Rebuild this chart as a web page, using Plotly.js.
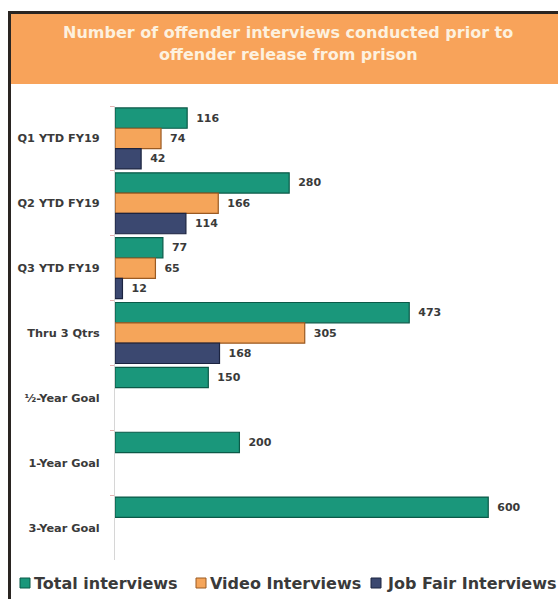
<!DOCTYPE html>
<html>
<head>
<meta charset="utf-8">
<script src="https://cdn.plot.ly/plotly-3.0.1.min.js"></script>
<style>html,body{margin:0;padding:0;background:#fff;}</style>
</head>
<body>
<div id="chart" style="width:558px;height:599px;"></div>
<script>
// ---- data ----
const categories = ["Q1 YTD FY19", "Q2 YTD FY19", "Q3 YTD FY19", "Thru 3 Qtrs", "½-Year Goal", "1-Year Goal", "3-Year Goal"];
const totalInterviews = [116, 280, 77, 473, 150, 200, 600];
const videoInterviews = [74, 166, 65, 305, null, null, null];
const jobFairInterviews = [42, 114, 12, 168, null, null, null];
const seriesNames = ["Total interviews", "Video Interviews", "Job Fair Interviews"];
const chartTitle = ["Number of offender interviews conducted prior to", "offender release from prison"];

// ---- styling / layout ----
const W = 558, H = 599;
const L = 115, R = 538, T = 106, B = 560;
const px = x => (x - L) / (R - L);
const py = y => (B - y) / (B - T);
const FONT = "DejaVu Sans, sans-serif";
const txtCol = "#3a3a3a";
const fills = ["#1a977b", "#f5a55a", "#3b4870"];
const edges = ["#0b5a48", "#9a5a22", "#1c2440"];
const seriesVals = [totalInterviews, videoInterviews, jobFairInterviews];

const traces = seriesVals.map((vals, i) => ({
  type: "bar",
  orientation: "h",
  name: seriesNames[i],
  y: categories,
  x: vals,
  marker: {color: fills[i], line: {color: edges[i], width: 1.2}},
  text: vals.map(v => v == null ? "" : String(v)),
  texttemplate: "\u00a0\u2009%{text}",
  textposition: "outside",
  cliponaxis: false,
  textfont: {family: FONT, size: 11, color: txtCol, weight: "bold"},
  showlegend: false,
  hoverinfo: "skip"
}));

const shapes = [
  // orange title band
  {type: "rect", xref: "paper", yref: "paper", x0: px(11), x1: px(560), y0: py(84), y1: py(14),
   fillcolor: "#f8a35a", line: {width: 0}, layer: "below"},
  // dark frame (top and left)
  {type: "line", xref: "paper", yref: "paper", x0: px(8), x1: px(560), y0: py(12.5), y1: py(12.5),
   line: {color: "#2a2522", width: 3}},
  {type: "line", xref: "paper", yref: "paper", x0: px(9.5), x1: px(9.5), y0: py(11), y1: py(602),
   line: {color: "#2a2522", width: 3}}
];

// legend keys
const legendKeyX = [20, 196, 371];
const legendTextX = [32, 208, 385];
const legendY = 583;
legendKeyX.forEach((x, i) => {
  shapes.push({type: "rect", xref: "paper", yref: "paper", x0: px(x), x1: px(x + 10), y0: py(legendY + 5), y1: py(legendY - 5),
    fillcolor: fills[i], line: {color: edges[i], width: 1}});
});

const annotations = [
  {text: chartTitle[0], xref: "paper", yref: "paper", x: px(288), y: py(32.5), xanchor: "center", yanchor: "middle",
   showarrow: false, font: {family: FONT, size: 16, color: "#fdf1df", weight: "bold"}},
  {text: chartTitle[1], xref: "paper", yref: "paper", x: px(288), y: py(54.5), xanchor: "center", yanchor: "middle",
   showarrow: false, font: {family: FONT, size: 16, color: "#fdf1df", weight: "bold"}}
];
legendTextX.forEach((x, i) => {
  annotations.push({text: seriesNames[i], xref: "paper", yref: "paper", x: px(x), y: py(legendY), xanchor: "left", yanchor: "middle",
    showarrow: false, font: {family: FONT, size: 16, color: txtCol, weight: "bold"}});
});

const layout = {
  width: W, height: H,
  margin: {l: L, r: W - R, t: T, b: H - B, pad: 0},
  paper_bgcolor: "#ffffff",
  plot_bgcolor: "#ffffff",
  barmode: "group",
  bargap: 0.06,
  bargroupgap: 0,
  showlegend: false,
  xaxis: {range: [0, 680], visible: false, fixedrange: true},
  yaxis: {
    type: "category",
    categoryorder: "array", categoryarray: categories,
    autorange: "reversed",
    showline: true, linecolor: "#d6d6d6", linewidth: 1,
    ticks: "outside", ticklen: 4, tickcolor: "#e6b3b3", tickson: "boundaries",
    showgrid: false, zeroline: false,
    ticklabelstandoff: 12,
    tickfont: {family: FONT, size: 11.3, color: txtCol, weight: "bold"},
    fixedrange: true
  },
  shapes: shapes,
  annotations: annotations
};

Plotly.newPlot("chart", traces, layout, {staticPlot: true, displayModeBar: false});
</script>
</body>
</html>
